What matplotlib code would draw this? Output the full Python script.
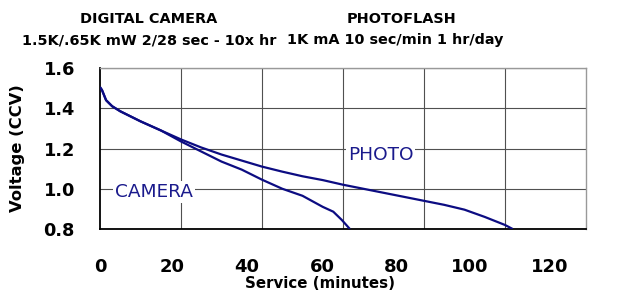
import matplotlib
matplotlib.use("Agg")
import matplotlib.pyplot as plt

# ---- data ----
camera_t = [0, 0.5, 1.5, 3, 5, 10, 15, 20, 25, 30, 35, 40, 45, 50, 55, 57.6, 59.7, 61.7]
camera_v = [1.505, 1.49, 1.44, 1.41, 1.385, 1.335, 1.29, 1.235, 1.185, 1.135, 1.095, 1.045,
            1.0, 0.965, 0.91, 0.886, 0.845, 0.80]
photo_t = [0, 0.5, 1.5, 3, 5, 10, 15, 20, 25, 30, 35, 40, 45, 50, 55, 60, 65, 70, 75, 80,
           85, 90, 95, 100, 101.9]
photo_v = [1.505, 1.49, 1.44, 1.41, 1.385, 1.335, 1.29, 1.245, 1.205, 1.17, 1.14, 1.11,
           1.085, 1.062, 1.043, 1.02, 1.0, 0.98, 0.96, 0.94, 0.92, 0.896, 0.86, 0.82, 0.80]
x_tick_labels = ["0", "20", "40", "60", "80", "100", "120"]
y_ticks = [0.8, 1.0, 1.2, 1.4, 1.6]
title_left = ["DIGITAL CAMERA", "1.5K/.65K mW 2/28 sec - 10x hr"]
title_right = ["PHOTOFLASH", "1K mA 10 sec/min 1 hr/day"]

# ---- layout ----
W, H = 623, 296
fig = plt.figure(figsize=(W / 100, H / 100), dpi=100)
L, R, T, B = 100, 586, 68, 229
ax = fig.add_axes([L / W, 1 - B / H, (R - L) / W, (B - T) / H])

navy = "#0c0c82"
ax.plot(camera_t, camera_v, color=navy, lw=1.6, solid_capstyle="butt", zorder=3)
ax.plot(photo_t, photo_v, color=navy, lw=1.6, solid_capstyle="butt", zorder=3)

ax.set_xlim(0, 120)
ax.set_ylim(0.8, 1.6)

# vertical grid lines on minor ticks (every 20 units of the plotted grid)
ax.set_xticks([20, 40, 60, 80, 100], minor=True)
ax.grid(which="minor", axis="x", color="#505050", lw=0.8, zorder=1)
ax.grid(which="major", axis="y", color="#505050", lw=0.8, zorder=1)
ax.tick_params(which="minor", length=0)

# labelled ticks (as printed in the original, slightly offset from grid)
xtick_pos = [0, 17.8, 36.3, 54.8, 73.3, 91.4, 111.1]
ax.set_xticks(xtick_pos)
ax.set_xticklabels(x_tick_labels)
ax.set_yticks(y_ticks)
ax.set_yticklabels([f"{v:.1f}" for v in y_ticks])
ax.tick_params(which="major", length=0)
ax.tick_params(axis="x", pad=21, labelsize=13)
ax.tick_params(axis="y", pad=18, labelsize=12.8)
for lab in ax.get_xticklabels() + ax.get_yticklabels():
    lab.set_fontweight("bold")

for s in ["left", "bottom"]:
    ax.spines[s].set_color("black")
    ax.spines[s].set_linewidth(1.3)
for s in ["top", "right"]:
    ax.spines[s].set_color("#999999")
    ax.spines[s].set_linewidth(1.0)

ax.set_xlabel("Service (minutes)", fontsize=10.8, fontweight="bold", va="center")
ax.xaxis.set_label_coords((320 - L) / (R - L), (B - 283) / (B - T))
ax.set_ylabel("Voltage (CCV)", fontsize=11.8, fontweight="bold", va="center")
ax.yaxis.set_label_coords((18 - L) / (R - L), 0.5)

lbl_kw = dict(color="#1a1a8c", fontsize=13.3, va="center", ha="left", zorder=4,
              bbox=dict(facecolor="white", edgecolor="none", pad=1.5))
ax.text(3.7, 0.982, "CAMERA", **lbl_kw)
ax.text(61.2, 1.168, "PHOTO", **lbl_kw)

tkw = dict(fontsize=10.4, fontweight="bold", ha="center", va="center")
fig.text(149 / W, 1 - 19 / H, title_left[0], **tkw)
fig.text(149 / W, 1 - 40 / H, title_left[1], **tkw)
fig.text(402 / W, 1 - 19 / H, title_right[0], **tkw)
fig.text(395 / W, 1 - 40 / H, title_right[1], **tkw)

fig.savefig("out.png", dpi=100)
